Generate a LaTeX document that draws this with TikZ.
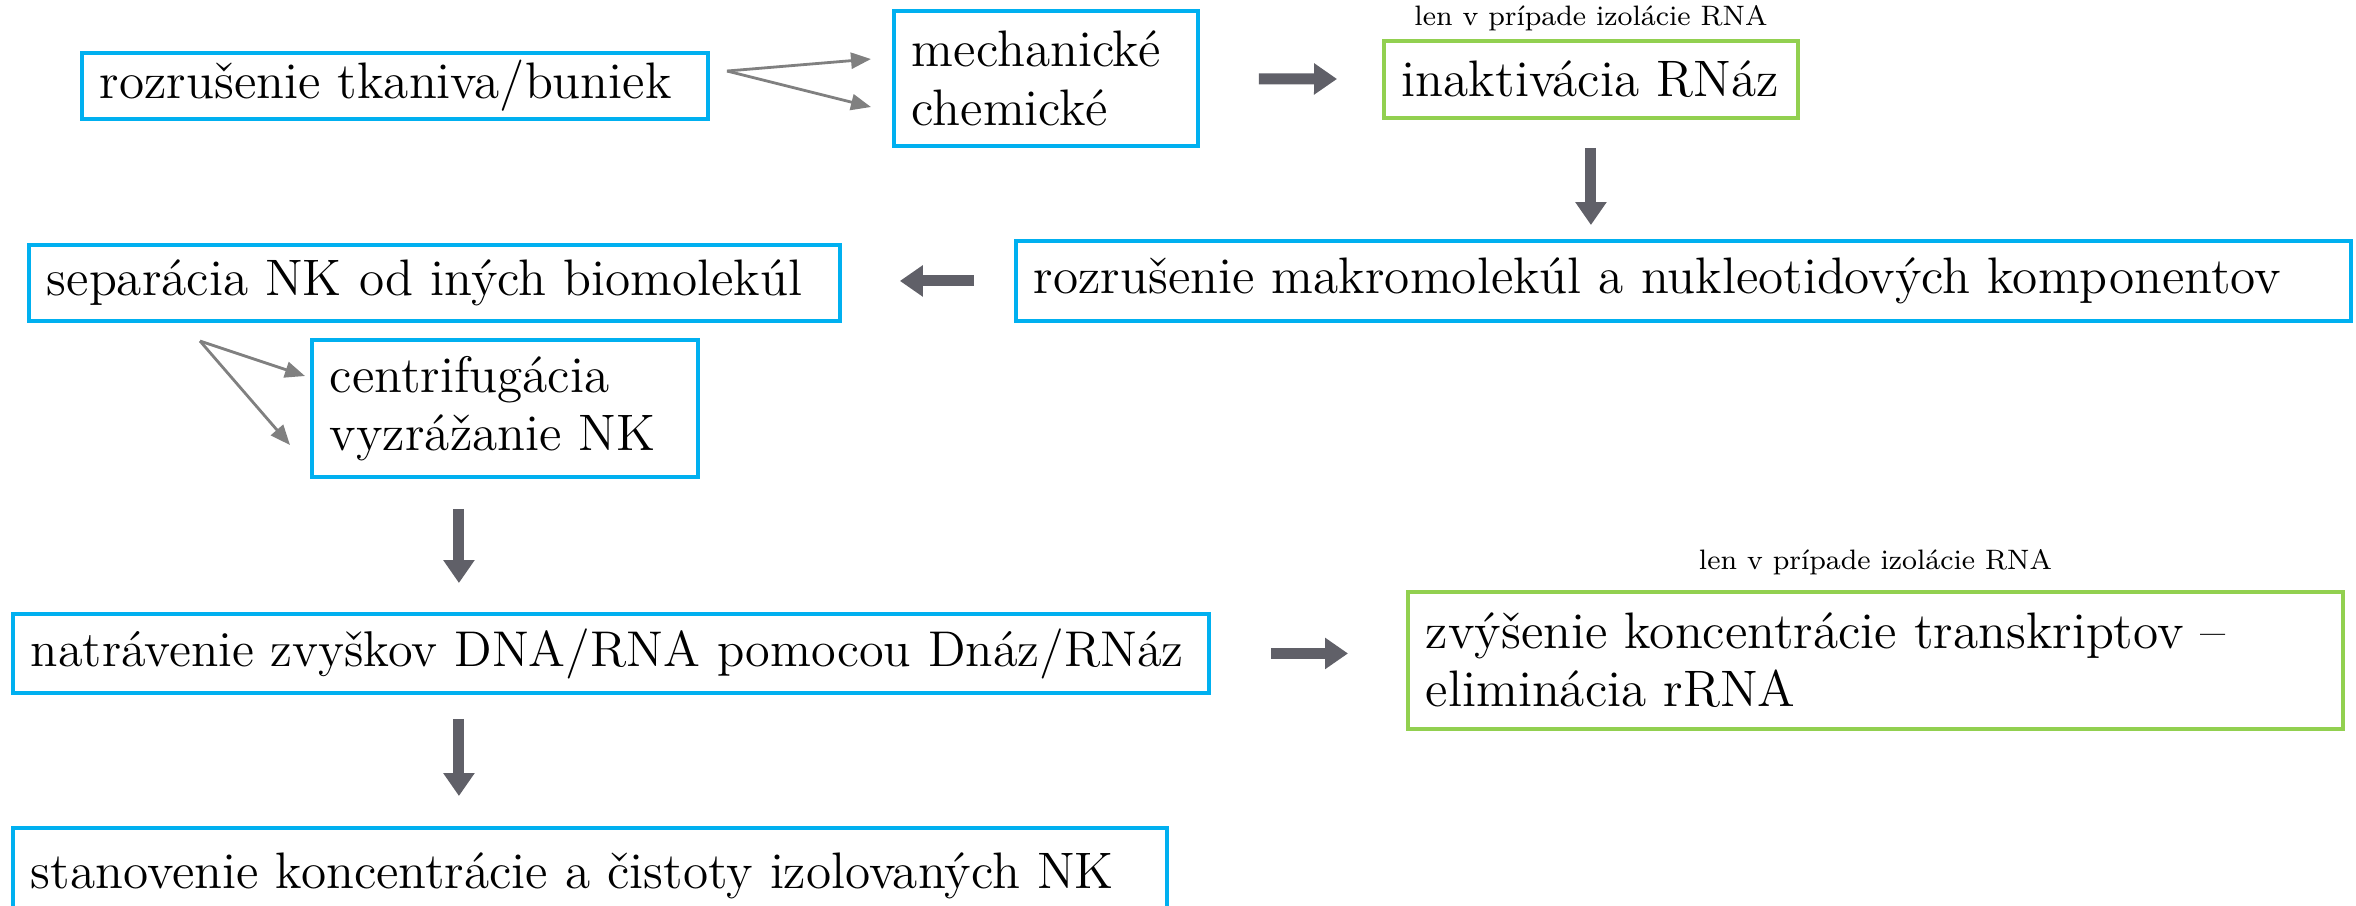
\documentclass[tikz,border=0pt]{standalone}
\usepackage{xcolor}
\usetikzlibrary{positioning}
\usetikzlibrary{arrows.meta}

\definecolor{boxblue}{RGB}{0,176,240}
\definecolor{boxgreen}{RGB}{146,208,80}
\definecolor{arrgray}{RGB}{96,96,104}
\definecolor{thingray}{RGB}{128,128,128}

\begin{document}
\begin{tikzpicture}[
    stepbox/.style={draw=boxblue, line width=1.1pt, anchor=north west, align=left,
      inner xsep=1.8mm, inner ysep=0pt, font=\fontsize{14.6}{16.6}\selectfont},
    rnabox/.style={stepbox, draw=boxgreen},
    note/.style={inner sep=0pt, font=\fontsize{8}{9}\selectfont},
    fat/.style={draw=arrgray, line width=1.1mm, -{Triangle[width=3mm,length=2.3mm]}},
    thin/.style={draw=thingray, line width=0.8pt, -{Triangle[width=1.6mm,length=2mm]}},
  ]
  \useasboundingbox (0,0) rectangle (23.56,-9.05);

  \node[stepbox, text width=5.9cm, minimum height=0.66cm] (rozrus) at (0.80,-0.51) {rozrušenie tkaniva/buniek};
  \node[stepbox, text width=2.68cm, minimum height=1.35cm] (mech) at (8.92,-0.09) {mechanické\\chemické};
  \node[rnabox, text width=3.78cm, minimum height=0.77cm] (inakt) at (13.82,-0.39) {\mbox{inaktivácia RNáz}};
  \node[note, above=0.07cm of inakt] (noteA) {len v prípade izolácie RNA};

  \node[stepbox, text width=12.99cm, minimum height=0.80cm] (makro) at (10.14,-2.39) {rozrušenie makromolekúl a nukleotidových komponentov};
  \node[stepbox, text width=7.75cm, minimum height=0.76cm] (separ) at (0.27,-2.43) {separácia NK od iných biomolekúl};
  \node[stepbox, text width=3.50cm, minimum height=1.37cm] (centr) at (3.10,-3.38) {centrifugácia\\vyzrážanie NK};

  \node[stepbox, text width=11.60cm, minimum height=0.79cm, font=\fontsize{14.3}{16.6}\selectfont] (natrav) at (0.11,-6.12) {\mbox{natrávenie zvyškov DNA/RNA pomocou Dnáz/RNáz}};
  \node[rnabox, text width=8.99cm, minimum height=1.37cm] (zvys) at (14.06,-5.90) {zvýšenie koncentrácie transkriptov --\\eliminácia rRNA};
  \node[note, above=0.14cm of zvys] (noteB) {len v prípade izolácie RNA};

  \node[stepbox, text width=11.18cm, minimum height=0.95cm] (stanov) at (0.11,-8.26) {\mbox{stanovenie koncentrácie a čistoty izolovaných NK}};

  % rozdelenie
  \coordinate (splitA) at (7.27,-0.71);
  \coordinate (splitB) at (2.00,-3.41);
  \draw[thin] (splitA) -- ([xshift=-2.1mm,yshift=-5mm]mech.north west);
  \draw[thin] (splitA) -- ([xshift=-2.1mm,yshift=-9.8mm]mech.north west);
  \draw[thin] (splitB) -- ([xshift=-0.5mm,yshift=-3.8mm]centr.north west);
  \draw[thin] (splitB) -- ([xshift=-2mm,yshift=-10.7mm]centr.north west);

  % hlavne sipky
  \draw[fat, shorten <=5.9mm, shorten >=4.5mm] (mech) -- (inakt);
  \draw[fat, shorten <=2.8mm, shorten >=1.4mm] (inakt.south) -- (inakt.south |- makro.north);
  \draw[fat, shorten <=4mm, shorten >=5.8mm] (makro.west) -- (makro.west -| separ.east);
  \draw[fat, shorten <=3mm, shorten >=2.9mm] ([xshift=-4.6mm]centr.south) -- ([xshift=-4.6mm]centr.south |- natrav.north);
  \draw[fat, shorten <=6mm, shorten >=5.8mm] (natrav.east) -- (natrav.east -| zvys.west);
  \draw[fat, shorten <=2.4mm, shorten >=3mm] ([xshift=-4.6mm]centr.south |- natrav.south) -- ([xshift=-4.6mm]centr.south |- stanov.north);
\end{tikzpicture}
\end{document}
